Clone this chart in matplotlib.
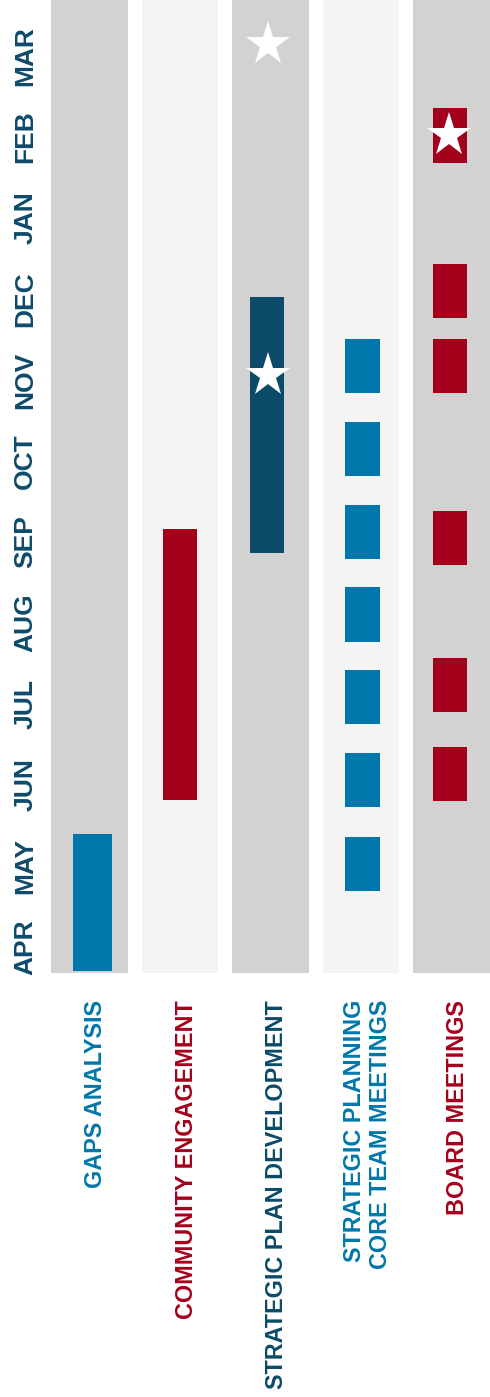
import numpy as np
import matplotlib
matplotlib.use("Agg")
import matplotlib.pyplot as plt
import matplotlib.transforms as mtransforms

plt.rcParams['font.family'] = ['Liberation Sans', 'DejaVu Sans']

# timeline (month index: 0 = APR ... 11 = MAR)
months = ['APR', 'MAY', 'JUN', 'JUL', 'AUG', 'SEP', 'OCT', 'NOV', 'DEC', 'JAN', 'FEB', 'MAR']
lanes = ['GAPS ANALYSIS', 'COMMUNITY ENGAGEMENT', 'STRATEGIC PLAN DEVELOPMENT',
         'STRATEGIC PLANNING\nCORE TEAM MEETINGS', 'BOARD MEETINGS']

gaps_start = [-0.29]
gaps_end = [1.39]
community_start = [1.81]
community_end = [5.16]
plan_start = [4.86]
plan_end = [8.03]
core_start = [0.69, 1.73, 2.75, 3.77, 4.79, 5.81, 6.84]
core_end = [1.36, 2.40, 3.42, 4.44, 5.46, 6.48, 7.51]
board_start = [1.80, 2.90, 4.72, 6.84, 7.77, 9.68]
board_end = [2.47, 3.57, 5.38, 7.51, 8.43, 10.36]

# milestone stars: (lane, month position)
star_lane = [2, 2, 4]
star_pos = [7.06, 11.15, 10.02]

blue = '#0077ab'
red = '#a3001b'
navy = '#0b4a68'
month_col = '#0e4a6a'
lane_fill = ['#d2d2d2', '#f4f4f4', '#d2d2d2', '#f4f4f4', '#d2d2d2']
label_col = [blue, red, navy, blue, red]

W, H = 490, 1397
fig = plt.figure(figsize=(W / 100, H / 100), dpi=100)
ax = fig.add_axes([40 / W, (H - 973) / H, 450 / W, 973 / H])

ymin, ymax = -0.32, 11.69
lane_x = np.arange(len(lanes))

# lane backgrounds
ax.bar(lane_x, ymax - ymin, bottom=ymin, width=0.85, color=lane_fill, zorder=1)

def draw(lane, starts, ends, color, width=0.38, shift=0.0):
    s = np.array(starts)
    e = np.array(ends)
    ax.bar([lane + shift] * len(s), e - s, bottom=s, width=width, color=color, zorder=2)

draw(0, gaps_start, gaps_end, blue, width=0.43, shift=0.035)
draw(1, community_start, community_end, red)
draw(2, plan_start, plan_end, navy, shift=-0.04)
draw(3, core_start, core_end, blue, shift=0.017)
draw(4, board_start, board_end, red, shift=-0.02)

ax.plot(np.array(star_lane) - 0.025, star_pos, ls='none', marker='*', ms=33,
        color='white', markeredgewidth=0, zorder=3)

ax.set_xlim(-0.547, 4.425)
ax.set_ylim(ymin, ymax)
ax.set_xticks([])
ax.set_yticks(range(len(months)))
ax.set_yticklabels(months, rotation=90, va='center', fontsize=19,
                   fontweight='bold', color=month_col)
ax.tick_params(axis='y', length=0, pad=2)
for s in ax.spines.values():
    s.set_visible(False)

# lane names under the lanes
trans = mtransforms.blended_transform_factory(ax.transData, ax.transAxes)
for i, name in enumerate(lanes):
    ax.text(i + 0.07, -27 / 973, name, transform=trans, rotation=90,
            ha='center', va='top', multialignment='right', fontsize=16.8,
            fontweight='bold', color=label_col[i], clip_on=False)

fig.savefig('out.png', dpi=100)
